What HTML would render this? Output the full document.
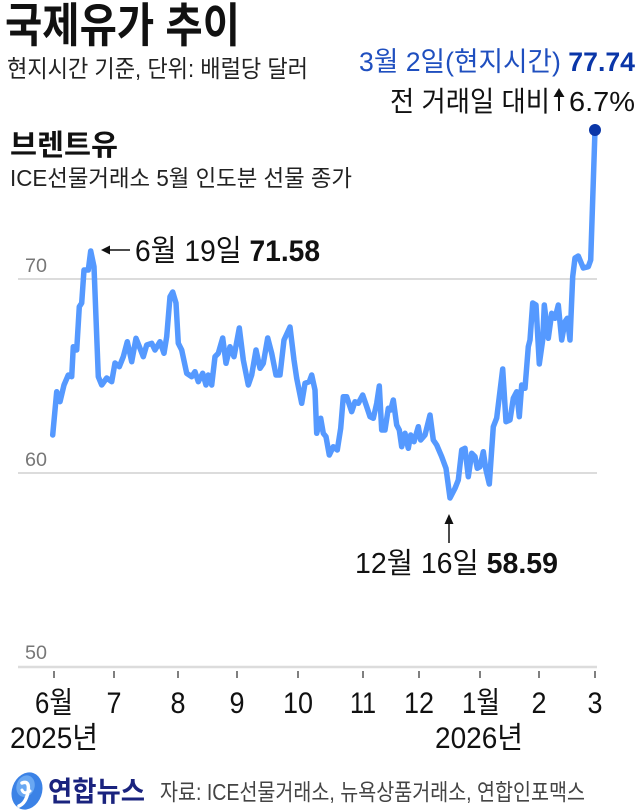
<!DOCTYPE html>
<html><head><meta charset="utf-8">
<style>
html,body{margin:0;padding:0;background:#fff;}
svg{display:block;}
text{font-family:"Liberation Sans","Noto Sans CJK KR",sans-serif;}
</style></head>
<body>
<svg width="640" height="812" viewBox="0 0 640 812" xmlns="http://www.w3.org/2000/svg">
<rect width="640" height="812" fill="#fff"/>
<!-- Titles -->
<text x="5" y="42" font-size="47" font-weight="bold" fill="#111" textLength="235" lengthAdjust="spacingAndGlyphs">국제유가 추이</text>
<text x="7" y="77" font-size="24" fill="#222" textLength="301" lengthAdjust="spacingAndGlyphs">현지시간 기준, 단위: 배럴당 달러</text>
<text x="10" y="155" font-size="29" font-weight="bold" fill="#111" textLength="108" lengthAdjust="spacingAndGlyphs">브렌트유</text>
<text x="10" y="186" font-size="23" fill="#222" textLength="342" lengthAdjust="spacingAndGlyphs">ICE선물거래소 5월 인도분 선물 종가</text>

<!-- top right annotation -->
<text x="359" y="71" font-size="27" fill="#1f4fbf" textLength="276" lengthAdjust="spacingAndGlyphs">3월 2일(현지시간) <tspan font-weight="bold" fill="#0a36a8">77.74</tspan></text>
<text x="390" y="111" font-size="28" fill="#111" textLength="160" lengthAdjust="spacingAndGlyphs">전 거래일 대비</text>
<line x1="559" y1="93" x2="559" y2="111" stroke="#111" stroke-width="2"/>
<polygon points="559,88 553.5,97 564.5,97" fill="#111"/>
<text x="569" y="111" font-size="28" fill="#111" textLength="66" lengthAdjust="spacingAndGlyphs">6.7%</text>

<!-- gridlines -->
<line x1="18" y1="279" x2="597" y2="279" stroke="#dcdcdc" stroke-width="2"/>
<line x1="18" y1="473" x2="597" y2="473" stroke="#dcdcdc" stroke-width="2"/>
<line x1="18" y1="667" x2="597" y2="667" stroke="#dcdcdc" stroke-width="2.5"/>
<text x="25" y="272" font-size="19" fill="#777" textLength="22" lengthAdjust="spacingAndGlyphs">70</text>
<text x="25" y="466" font-size="19" fill="#777" textLength="22" lengthAdjust="spacingAndGlyphs">60</text>
<text x="25" y="659" font-size="19" fill="#777" textLength="22" lengthAdjust="spacingAndGlyphs">50</text>

<!-- ticks -->
<g stroke="#555" stroke-width="1.5">
<line x1="54" y1="671" x2="54" y2="678"/>
<line x1="114" y1="671" x2="114" y2="678"/>
<line x1="178" y1="671" x2="178" y2="678"/>
<line x1="237" y1="671" x2="237" y2="678"/>
<line x1="298" y1="671" x2="298" y2="678"/>
<line x1="363" y1="671" x2="363" y2="678"/>
<line x1="419" y1="671" x2="419" y2="678"/>
<line x1="480" y1="671" x2="480" y2="678"/>
<line x1="539" y1="671" x2="539" y2="678"/>
<line x1="595" y1="671" x2="595" y2="678"/>
</g>
<g font-size="30" fill="#111" text-anchor="middle">
<text x="54" y="713" textLength="38" lengthAdjust="spacingAndGlyphs">6월</text>
<text x="114" y="713" textLength="15" lengthAdjust="spacingAndGlyphs">7</text>
<text x="178" y="713" textLength="15" lengthAdjust="spacingAndGlyphs">8</text>
<text x="237" y="713" textLength="15" lengthAdjust="spacingAndGlyphs">9</text>
<text x="298" y="713" textLength="30" lengthAdjust="spacingAndGlyphs">10</text>
<text x="363" y="713" textLength="26" lengthAdjust="spacingAndGlyphs">11</text>
<text x="419" y="713" textLength="30" lengthAdjust="spacingAndGlyphs">12</text>
<text x="481" y="713" textLength="38" lengthAdjust="spacingAndGlyphs">1월</text>
<text x="539" y="713" textLength="15" lengthAdjust="spacingAndGlyphs">2</text>
<text x="595" y="713" textLength="15" lengthAdjust="spacingAndGlyphs">3</text>
</g>
<text x="10" y="748" font-size="30" fill="#111" textLength="88" lengthAdjust="spacingAndGlyphs">2025년</text>
<text x="435" y="748" font-size="30" fill="#111" textLength="88" lengthAdjust="spacingAndGlyphs">2026년</text>

<!-- data line -->
<polyline fill="none" stroke="#5599ff" stroke-width="5.5" stroke-linejoin="round" stroke-linecap="round" points="
52.7,435 56.7,391.7 60,401.7 64,385 68.3,375 71.7,376.7 73.3,346.7 76.7,350 79.3,306.7 81.7,303 84,270 88.3,270 90.7,251 94,266.7 98.3,376.7 101.7,385 106.7,378 111.7,381.7 115,363 119.3,366.7 123.3,356.7 127.3,341.7 131.7,361.7 136,338.3 140,348.3 143.3,356.7 146.7,345 151.7,343.3 155,350 160,341.7 164,353.3 166.7,336.7 170,296.7 172.7,292 176,303 178.3,343.3 181.7,350 186.7,373.3 191.7,376.7 195,371.7 198.3,381.7 202.7,373.3 206,385 208.3,375 211.7,385 215,356.7 218.3,353.3 222.7,338 226,363.3 230,346.7 234,356.7 239.3,328 243.3,360 248.3,385 251.7,375 256,350 260,368.3 263.3,363.3 267.7,338 271.7,353.3 276,375 280,375 284,340 290,327 294,360 296.7,378.3 301.7,403.3 305,383.3 309.3,381.7 311.7,375 315,390 316.7,433.3 320.7,418.3 323.3,433.3 326,436.7 329.3,455 333.3,446.7 337.3,450 340.7,428.3 343.3,396.7 346.7,396.7 351.7,411.7 355,401.7 358.3,403.3 362.7,395 366.7,406.7 370,416.7 373.3,418.3 376.7,403.3 379.3,386 381.7,430 385,430 388.3,408.3 390.7,410 393.3,400 396.7,425 399.3,430 401.7,446.7 405,433.3 408.3,448.3 410.7,435 414,441.7 418.3,426.7 420.7,440 425,435 430,415 433.3,440 436.7,445 441.7,456.7 446,468.3 450,498 455,488.3 458.3,480 461.7,450 465,448.3 468.3,476.7 471.7,453.3 475,456.7 477.3,468.3 480,466.7 483.3,451.7 486,470 489.3,484 493.3,426.7 496.7,418 502.7,369 506,421.7 510,420 513.3,398.3 516.7,391.7 519.3,416.7 521.7,385 525,388.3 528.3,346.7 530,340 532.7,303 536,305 539.3,364 542.7,340 544.3,305 548.3,338.3 551.7,313.3 555,318.3 558.3,305 561.7,340 565,321.7 567.3,318.3 570,340 572.7,276.7 575,258 578.3,256 583.3,268 588.3,266.7 590.7,260 595,130"/>
<circle cx="595" cy="130" r="6" fill="#0a36a8"/>

<!-- annotation 1 -->
<line x1="108" y1="250" x2="130" y2="250" stroke="#111" stroke-width="1.5"/>
<polygon points="101,250 110,245.5 110,254.5" fill="#111"/>
<text x="135" y="261" font-size="30" fill="#111" textLength="185" lengthAdjust="spacingAndGlyphs">6월 19일 <tspan font-weight="bold">71.58</tspan></text>

<!-- annotation 2 -->
<line x1="449" y1="522" x2="449" y2="543" stroke="#111" stroke-width="1.5"/>
<polygon points="449,514 444.5,524 453.5,524" fill="#111"/>
<text x="355" y="573" font-size="29" fill="#111" textLength="203" lengthAdjust="spacingAndGlyphs">12월 16일 <tspan font-weight="bold">58.59</tspan></text>

<!-- footer logo -->
<g transform="translate(27,791) rotate(20)">
<ellipse cx="0" cy="0" rx="15" ry="19" fill="#3b82e6"/>
<ellipse cx="-3" cy="-4" rx="9" ry="11" fill="#6aa8f2"/>
</g>
<path d="M22,783 Q30,780 28,792 Q26,803 19,806" fill="none" stroke="#fff" stroke-width="3.5" stroke-linecap="round"/>
<path d="M22,790 Q24,795 30,791" fill="none" stroke="#fff" stroke-width="3" stroke-linecap="round"/>
<text x="48" y="801" font-size="28" font-weight="bold" fill="#1a237e" textLength="97" lengthAdjust="spacingAndGlyphs">연합뉴스</text>
<text x="160" y="800" font-size="23" fill="#444" textLength="425" lengthAdjust="spacingAndGlyphs">자료: ICE선물거래소, 뉴욕상품거래소, 연합인포맥스</text>
</svg>
</body></html>
